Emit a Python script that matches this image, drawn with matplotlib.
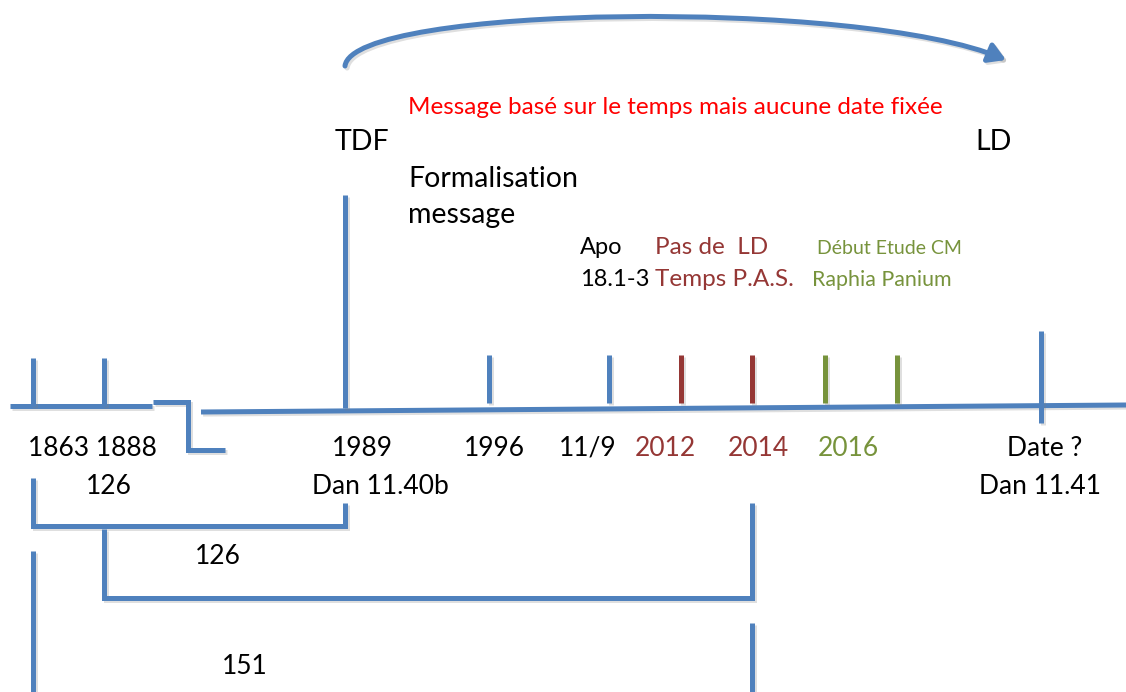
import matplotlib
matplotlib.use("Agg")
import matplotlib.pyplot as plt
import matplotlib.patheffects as pe
from matplotlib.path import Path
from matplotlib.patches import FancyArrowPatch

plt.rcParams["font.family"] = ["Lato", "DejaVu Sans"]

W, H = 1126, 692
BLUE = "#4F81BD"
DRED = "#953735"
GREEN = "#77933C"

# timeline events: x position along the drawing, tick top/bottom, colour
tick_x = [33, 104, 345, 489, 609, 681, 752, 825, 897, 1041]
tick_top = [358, 358, 195, 355, 355, 355, 355, 355, 355, 331]
tick_bot = [406, 406, 408, 403, 403, 403, 403, 403, 403, 423]
tick_col = [BLUE, BLUE, BLUE, BLUE, BLUE, DRED, DRED, GREEN, GREEN, BLUE]

# labels under the axis
year_labels = ["1863 1888", "1989", "1996", "11/9", "2012", "2014", "2016", "Date ?"]
year_x = [92, 362, 494, 588, 665, 758, 848, 1045]
year_col = ["black", "black", "black", "black", DRED, DRED, GREEN, "black"]
ref_labels = ["126", "Dan 11.40b", "Dan 11.41"]
ref_x = [109, 380, 1040]

# spans (brackets) below the timeline
span_label = ["126", "151"]
span_label_x = [218, 245]
span_label_y = [557, 666]

shadow = [pe.SimpleLineShadow(offset=(1.5, -1.5), alpha=0.25, shadow_color="gray"), pe.Normal()]

fig = plt.figure(figsize=(W / 100, H / 100), dpi=100)
ax = fig.add_axes([0, 0, 1, 1])
ax.set_xlim(0, W)
ax.set_ylim(H, 0)
ax.axis("off")

LW = 3.6


def line(xs, ys, color=BLUE, lw=LW):
    ax.plot(xs, ys, color=color, lw=lw, solid_capstyle="butt",
            solid_joinstyle="miter", path_effects=shadow)


# main axis: left piece, step, right piece
line([10, 152], [406, 406])
line([153, 188, 188, 225], [402, 402, 450, 450])
line([201, 1126], [412, 405])

for x, t, b, c in zip(tick_x, tick_top, tick_bot, tick_col):
    line([x, x], [t, b], color=c)

# brackets
line([33, 33, 345, 345], [478, 526, 526, 503])
line([104, 104, 752, 752], [529, 598, 598, 503])
line([33, 33], [551, 700])
line([752, 752], [623, 700])

# curved arrow on top
verts = [(345, 66), (352, 5), (860, -2), (1006, 60)]
arc = Path(verts, [Path.MOVETO, Path.CURVE4, Path.CURVE4, Path.CURVE4])
ax.add_patch(FancyArrowPatch(path=arc, arrowstyle="-|>,head_length=10,head_width=6",
                             color=BLUE, lw=3.6, path_effects=shadow))

NUM = 19
WORD = 20.5
for s, x, c in zip(year_labels, year_x, year_col):
    ax.text(x, 448, s, ha="center", va="center", fontsize=NUM, color=c)
for s, x in zip(ref_labels, ref_x):
    ax.text(x, 487, s, ha="center", va="center", fontsize=NUM)
for s, x, y in zip(span_label, span_label_x, span_label_y):
    ax.text(x, y, s, ha="center", va="center", fontsize=NUM)

ax.text(408, 107, "Message basé sur le temps mais aucune date fixée",
        ha="left", va="center", fontsize=17.5, color="red")
ax.text(335, 142, "TDF", ha="left", va="center", fontsize=WORD)
ax.text(975, 142, "LD", ha="left", va="center", fontsize=WORD)
ax.text(408, 179, "Formalisation", ha="left", va="center", fontsize=WORD)
ax.text(408, 215, "message", ha="left", va="center", fontsize=WORD)

ax.text(580, 248, "Apo", ha="left", va="center", fontsize=17)
ax.text(580, 280, "18.1-3", ha="left", va="center", fontsize=17)
ax.text(655, 248, "Pas de  LD", ha="left", va="center", fontsize=17.5, color=DRED)
ax.text(655, 280, "Temps P.A.S.", ha="left", va="center", fontsize=17.5, color=DRED)
ax.text(817, 248, "Début Etude CM", ha="left", va="center", fontsize=14, color=GREEN)
ax.text(812, 280, "Raphia Panium", ha="left", va="center", fontsize=15.4, color=GREEN)

fig.savefig("out.png", dpi=100)
